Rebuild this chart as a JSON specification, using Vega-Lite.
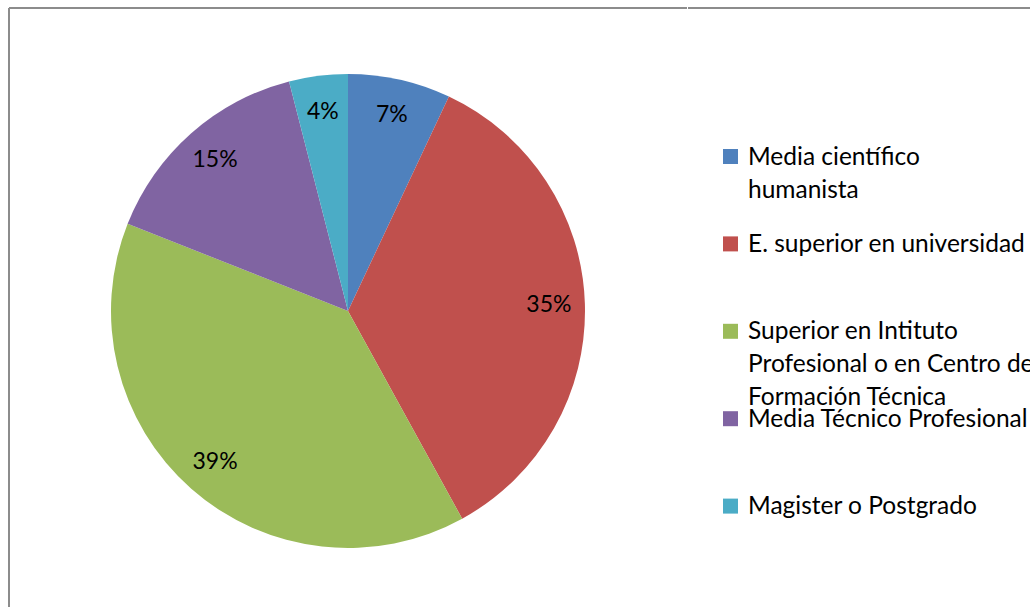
{
  "$schema": "https://vega.github.io/schema/vega-lite/v6.json",
  "padding": {"left": 8, "top": 7, "right": 0, "bottom": 0},
  "background": "white",
  "spacing": 0,
  "config": {"font": "Lato", "view": {"stroke": null}},
  "datasets": {
    "niveles": [
      {"nivel": "Media científico humanista", "etiqueta": "Media científico\nhumanista", "pct": 0.07, "orden": 1},
      {"nivel": "E. superior en universidad", "etiqueta": "E. superior en universidad", "pct": 0.35, "orden": 2},
      {"nivel": "Superior en Intituto Profesional o en Centro de Formación Técnica", "etiqueta": "Superior en Intituto\nProfesional o en Centro de\nFormación Técnica", "pct": 0.39, "orden": 3},
      {"nivel": "Media Técnico Profesional", "etiqueta": "Media Técnico Profesional", "pct": 0.15, "orden": 4},
      {"nivel": "Magister o Postgrado", "etiqueta": "Magister o Postgrado", "pct": 0.04, "orden": 5}
    ]
  },
  "hconcat": [
    {
      "width": 678,
      "height": 606,
      "view": {"stroke": "#8C8C8C", "strokeWidth": 2, "strokeDash": [678, 1284, 606, 0]},
      "data": {"name": "niveles"},
      "encoding": {
        "theta": {"field": "pct", "type": "quantitative", "stack": true},
        "order": {"field": "orden", "type": "quantitative"}
      },
      "layer": [
        {
          "mark": {"type": "arc", "radius": 237, "stroke": null},
          "encoding": {
            "color": {
              "field": "nivel",
              "type": "nominal",
              "scale": {
                "domain": ["Media científico humanista", "E. superior en universidad", "Superior en Intituto Profesional o en Centro de Formación Técnica", "Media Técnico Profesional", "Magister o Postgrado"],
                "range": ["#4F81BD", "#C0504D", "#9BBB59", "#8064A2", "#4BACC6"]
              },
              "legend": null
            }
          }
        },
        {
          "mark": {"type": "text", "radius": 201, "fontSize": 23, "font": "Lato", "color": "black"},
          "encoding": {
            "detail": {"field": "nivel", "type": "nominal"},
            "text": {"field": "pct", "type": "quantitative", "format": ".0%"}
          }
        }
      ]
    },
    {
      "width": 364,
      "height": 0.01,
      "view": {"stroke": "#8C8C8C", "strokeWidth": 2},
      "data": {"name": "niveles"},
      "encoding": {
        "y": {
          "field": "nivel",
          "type": "nominal",
          "sort": ["Media científico humanista", "E. superior en universidad", "Superior en Intituto Profesional o en Centro de Formación Técnica", "Media Técnico Profesional", "Magister o Postgrado"],
          "scale": {"type": "point", "padding": 0, "range": [148.5, 498.1]},
          "axis": null
        }
      },
      "layer": [
        {
          "mark": {"type": "point", "shape": "square", "size": 225, "filled": true, "opacity": 1, "xOffset": -140.5},
          "encoding": {
            "color": {
              "field": "nivel",
              "type": "nominal",
              "scale": {
                "domain": ["Media científico humanista", "E. superior en universidad", "Superior en Intituto Profesional o en Centro de Formación Técnica", "Media Técnico Profesional", "Magister o Postgrado"],
                "range": ["#4F81BD", "#C0504D", "#9BBB59", "#8064A2", "#4BACC6"]
              },
              "legend": null
            }
          }
        },
        {
          "mark": {"type": "text", "align": "left", "baseline": "alphabetic", "dx": -123, "dy": 8, "fontSize": 24.5, "font": "Lato", "lineHeight": 33, "lineBreak": "\n", "color": "black"},
          "encoding": {"text": {"field": "etiqueta", "type": "nominal"}}
        }
      ]
    }
  ]
}
